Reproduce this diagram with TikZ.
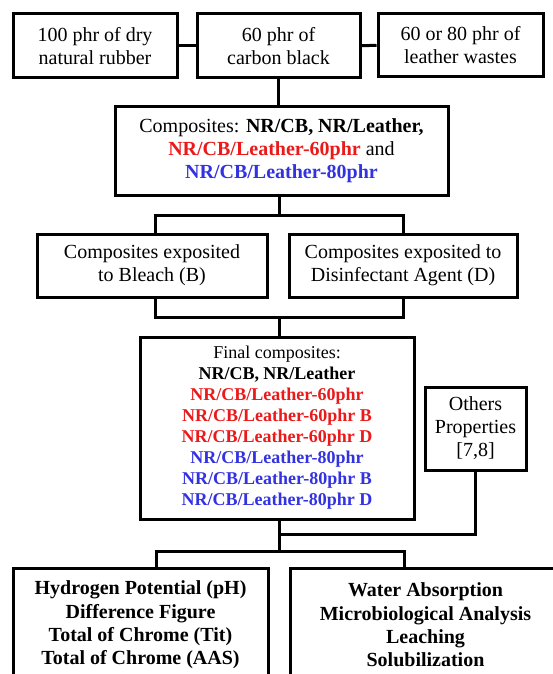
\documentclass[tikz,border=0pt]{standalone}
\usepackage{fontspec}
\setmainfont{Liberation Serif}
\definecolor{nrred}{RGB}{235,25,25}
\definecolor{nrblue}{RGB}{50,50,225}
\tikzset{
  box/.style={draw, line width=3pt, align=center, inner sep=0pt,
    font=\fontsize{20}{23}\selectfont},
  link/.style={line width=3pt}
}
\newcommand{\red}[1]{\textcolor{nrred}{\textbf{#1}}}
\newcommand{\blu}[1]{\textcolor{nrblue}{\textbf{#1}}}
\begin{document}
\begin{tikzpicture}[x=1pt, y=-1pt]
        \useasboundingbox (0,0) rectangle (552,674);
        % raw materials
        \node[box, minimum width=164pt, minimum height=64pt] (rubber)  at (95,46)    {100 phr of dry\\natural rubber};
        \node[box, minimum width=163pt, minimum height=64pt] (carbon)  at (278.5,46) {60 phr of\\carbon black};
        \node[box, minimum width=165pt, minimum height=63pt] (leather) at (460.5,45) {60 or 80 phr of\\leather wastes};
        \draw[link] (rubber) -- (carbon);
        \draw[link] (carbon) -- (leather);
        % composites
        \node[box, minimum width=333pt, minimum height=88pt] (comp) at (281.5,151)
          {Composites: \textbf{NR/CB, NR/Leather,}\\\red{NR/CB/Leather-60phr} and\\\blu{NR/CB/Leather-80phr}};
        \draw[link] (carbon.south) -- (carbon.south |- comp.north);
        % exposure
        \node[box, minimum width=230pt, minimum height=63pt] (bleach) at (152,265.5) {Composites exposited\\to Bleach (B)};
        \node[box, minimum width=228pt, minimum height=63pt] (disinf) at (403,265.5) {Composites exposited to\\Disinfectant Agent (D)};
        \coordinate (split1) at (279,215);
        \coordinate (join1)  at (279,317);
        \draw[link] (comp.south -| split1) -- (split1);
        \draw[link] (155,234) |- (split1) -| (disinf.north);
        \draw[link] (155,297) |- (join1) -| (disinf.south);
        % final composites
        \node[box, minimum width=274pt, minimum height=182pt, font=\fontsize{18}{21}\selectfont] (final) at (277,428)
          {Final composites:\\\textbf{NR/CB, NR/Leather}\\\red{NR/CB/Leather-60phr}\\\red{NR/CB/Leather-60phr B}\\\red{NR/CB/Leather-60phr D}\\
           \blu{NR/CB/Leather-80phr}\\\blu{NR/CB/Leather-80phr B}\\\blu{NR/CB/Leather-80phr D}};
        \draw[link] (join1) -- (join1 |- final.north);
        \node[box, minimum width=101pt, minimum height=83pt] (others) at (475.5,428.5) {Others\\Properties\\{[7,8]}};
        % analyses
        \node[box, minimum width=255pt, minimum height=114pt, font=\bfseries\fontsize{20}{23.3}\selectfont] (tests) at (140.5,625)
          {Hydrogen Potential (pH)\\Difference Figure\\Total of Chrome (Tit)\\Total of Chrome (AAS)};
        \node[box, minimum width=271pt, minimum height=114pt, font=\bfseries\fontsize{20}{23.3}\selectfont] (analysis) at (425.5,625)
          {Water Absorption\\Microbiological Analysis\\Leaching\\Solubilization};
        \coordinate (merge) at (279,534);
        \coordinate (split2) at (279,551);
        \draw[link] (final.south -| merge) -- (split2);
        \draw[link] (others.south) |- (merge);
        \draw[link] (156,568) |- (split2) -| (404,568);
\end{tikzpicture}
\end{document}
